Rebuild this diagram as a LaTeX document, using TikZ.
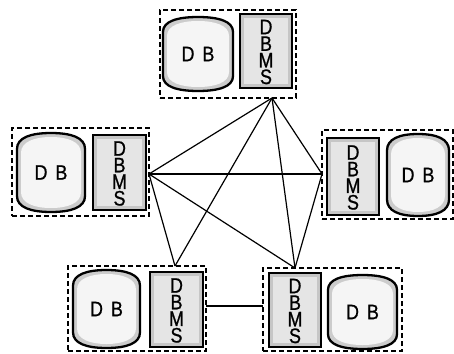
\documentclass[tikz,border=0pt]{standalone}
\usepackage{fontspec}
\newfontfamily\labfont[FakeStretch=0.85,FakeBold=0.8]{Liberation Sans}
\usetikzlibrary{fit}
\tikzset{
  grp/.style={draw=black, dash pattern=on 5pt off 3pt, line width=1.5pt, inner sep=0pt},
  link/.style={draw=black, line width=1.2pt},
  dbtxt/.style={font=\labfont\fontsize{21}{21}\selectfont, inner sep=0pt, text=black},
  dbmstxt/.style={font=\labfont\fontsize{21}{16.6}\selectfont, align=center, inner sep=0pt, text=black},
  outline/.style={draw=black, line width=2.3pt},
}
% barrel path helper: #1 style, #2 x1, #3 y1, #4 x2, #5 y2
\newcommand\mybarrel[5]{%
  \pgfmathsetmacro\bA{0.2*(#5-#3)}%
  \pgfmathsetmacro\bB{0.3*\bA}%
  \pgfmathsetmacro\bW{0.2*(#4-#2)}%
  \pgfmathsetmacro\bXm{0.5*(#2+#4)}%
  \path[#1] (#2,{#3+\bA}) .. controls (#2,{#3+\bB}) and ({#2+\bW},#3) .. (\bXm,#3)
    .. controls ({#4-\bW},#3) and (#4,{#3+\bB}) .. (#4,{#3+\bA})
    -- (#4,{#5-\bA}) .. controls (#4,{#5-\bB}) and ({#4-\bW},#5) .. (\bXm,#5)
    .. controls ({#2+\bW},#5) and (#2,{#5-\bB}) .. (#2,{#5-\bA}) -- cycle;%
}
% DB cylinder: #1 name, #2 x1, #3 y1, #4 x2, #5 y2
\newcommand\mydb[5]{%
  \mybarrel{fill=gray!40}{#2}{#3}{#4}{#5}%
  \mybarrel{fill=gray!8}{#2+4}{#3+4}{#4-4}{#5-4}%
  \mybarrel{outline}{#2}{#3}{#4}{#5}%
  \node[dbtxt] (#1) at ({0.5*(#2+#4)},{0.5*(#3+#5)}) {D\hspace{8pt}B};%
}
% DBMS box: #1 name, #2 x1, #3 y1, #4 x2, #5 y2
\newcommand\mydbms[5]{%
  \fill[gray!45] (#2,#3) rectangle (#4,#5);%
  \fill[gray!20] ({#2+4},{#3+4}) rectangle ({#4-4},{#5-4});%
  \draw[outline] (#2,#3) rectangle (#4,#5);%
  \node[dbmstxt] (#1) at ({0.5*(#2+#4)},{0.5*(#3+#5)+1}) {D\\B\\M\\S};%
}
\begin{document}
\begin{tikzpicture}[x=1pt,y=-1pt]
\useasboundingbox (0,0) rectangle (454,353);
% top group
\mydb{dbT}{163}{17}{233}{91}
\mydbms{msT}{240}{14}{292}{88}
\node[grp, fit={(160,10) (296,98)}] (gT) {};
% left group
\mydb{dbL}{17}{133}{85}{212}
\mydbms{msL}{93}{135}{146}{210}
\node[grp, fit={(12,128) (149,216)}] (gL) {};
% right group
\mydbms{msR}{327}{138}{379}{215}
\mydb{dbR}{387}{134}{449}{216}
\node[grp, fit={(322,130) (453,219)}] (gR) {};
% bottom left group
\mydb{dbBL}{73}{270}{140}{348}
\mydbms{msBL}{150}{272}{203}{347}
\node[grp, fit={(68,266) (206,351)}] (gBL) {};
% bottom right group
\mydbms{msBR}{269}{273}{321}{347}
\mydb{dbBR}{328}{275}{397}{349}
\node[grp, fit={(263,268) (402,351)}] (gBR) {};
% connection points
\coordinate (pT) at (272,98);
\coordinate (pL) at (149,174);
\coordinate (pR) at (322,174);
\coordinate (pBL) at (175,266);
\coordinate (pBR) at (295,268);
\coordinate (pBLe) at (206,306);
\coordinate (pBRw) at (263,306);
% links
\draw[link] (pT) -- (pL);
\draw[link] (pT) -- (pR);
\draw[link] (pT) -- (pBL);
\draw[link] (pT) -- (pBR);
\draw[link] (pL) -- (pR);
\draw[link] (pL) -- (pBL);
\draw[link] (pL) -- (pBR);
\draw[link] (pR) -- (pBR);
\draw[link] (pBLe) -- (pBRw);
\end{tikzpicture}
\end{document}
